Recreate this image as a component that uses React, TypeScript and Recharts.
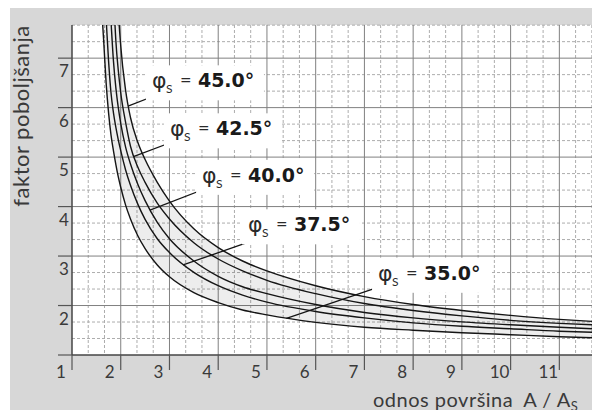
import React from 'react';
import {
  ComposedChart,
  Line,
  Area,
  XAxis,
  YAxis,
  CartesianGrid,
  ReferenceLine,
  ReferenceDot,
} from 'recharts';

// odnos površina A / As (x) and faktor poboljšanja for each friction angle
const ratio = [1.5, 1.55, 1.6, 1.65, 1.7, 1.75, 1.8, 1.85, 1.9, 1.95, 2.0, 2.1, 2.2, 2.35, 2.5, 2.75, 3.0, 3.5, 4.0, 4.5, 5.0, 6.0, 7.0, 8.0, 9.0, 10.0, 11.0, 11.67];
const phi35 = [11, 9.6, 8.2, 7.35, 6.5, 5.9, 5.45, 5.13, 4.85, 4.6, 4.39, 4.03, 3.75, 3.41, 3.15, 2.82, 2.58, 2.26, 2.06, 1.91, 1.81, 1.66, 1.56, 1.5, 1.45, 1.41, 1.37, 1.35];
const phi375 = [12, 10.8, 9.6, 8.6, 7.8, 6.95, 6.3, 5.9, 5.6, 5.35, 5.13, 4.74, 4.43, 4.05, 3.74, 3.35, 3.07, 2.67, 2.4, 2.21, 2.07, 1.88, 1.75, 1.65, 1.58, 1.53, 1.48, 1.46];
const phi40 = [14, 13, 12, 11, 9.5, 8.6, 7.75, 6.95, 6.4, 6.0, 5.68, 5.2, 4.86, 4.45, 4.12, 3.68, 3.35, 2.9, 2.59, 2.38, 2.24, 2.02, 1.86, 1.75, 1.67, 1.61, 1.56, 1.53];
const phi425 = [16, 15, 14, 13, 12, 11, 10, 8.4, 7.35, 6.75, 6.3, 5.7, 5.22, 4.8, 4.49, 4.07, 3.75, 3.27, 2.94, 2.7, 2.51, 2.24, 2.04, 1.9, 1.79, 1.7, 1.64, 1.61];
const phi45 = [18, 17, 16, 15, 14, 13, 12, 11, 9.5, 8.0, 7.25, 6.35, 5.8, 5.3, 4.95, 4.49, 4.11, 3.55, 3.17, 2.9, 2.7, 2.4, 2.18, 2.02, 1.9, 1.8, 1.72, 1.68];

const xTicks = [1, 2, 3, 4, 5, 6, 7, 8, 9, 10, 11];
const yTicks = [1, 2, 3, 4, 5, 6, 7];

// curve labels: angle text, anchor (left of φ, baseline) and leader line
const labelAngles = ['45.0°', '42.5°', '40.0°', '37.5°', '35.0°'];
const labelX = [2.64, 3.01, 3.67, 4.61, 7.28];
const labelY = [6.41, 5.44, 4.5, 3.5, 2.52];
const leaderStartX = [2.67, 3.07, 3.76, 4.65, 7.32];
const leaderStartY = [6.23, 5.31, 4.37, 3.29, 2.38];
const leaderEndX = [2.15, 2.26, 2.6, 3.28, 5.4];
const leaderEndY = [6.03, 5.01, 3.93, 2.82, 1.74];

const X_MAX = 11.67;
const Y_MAX = 7.67;

const data = ratio.map((x, i) => ({
  x,
  p35: phi35[i],
  p375: phi375[i],
  p40: phi40[i],
  p425: phi425[i],
  p45: phi45[i],
}));

// grid every third of a unit
const thirds = (from: number, to: number) => {
  const out: number[] = [];
  for (let k = 1; from + k / 3 < to + 0.01; k++) {
    if (k % 3 !== 0) out.push(from + k / 3);
  }
  return out;
};
const minorX = thirds(1, X_MAX);
const minorY = thirds(1, Y_MAX);

const textColor = '#3a3a3a';
const curveColor = '#151515';

const XTick = ({ x, y, payload }: any) => (
  <text x={x - 11} y={y + 6} textAnchor="middle" fontSize={17} fill={textColor} fontFamily="Lato">
    {payload.value}
  </text>
);

const YTick = ({ x, y, payload }: any) => {
  if (payload.value === 1) return null;
  return (
    <text x={x + 8} y={y + 19} textAnchor="middle" fontSize={17} fill={textColor} fontFamily="Lato">
      {payload.value}
    </text>
  );
};

const makeLabel = (angle: string) => (props: any) => {
  const { cx, cy } = props;
  return (
    <g>
      <rect x={cx - 6} y={cy - 22} width={118} height={35} fill="#fff" />
      <text x={cx} y={cy + 1} fontSize={22} fill="#2a2a2a" fontFamily="DejaVu Sans">
        φ
      </text>
      <text x={cx + 14} y={cy + 6} fontSize={12} fill="#2a2a2a" fontFamily="Lato">
        S
      </text>
      <text x={cx + 28} y={cy} fontSize={20} fill="#2a2a2a" fontFamily="Lato">
        =
      </text>
      <text x={cx + 46} y={cy} fontSize={19} fontWeight="bold" fill="#1a1a1a" fontFamily="DejaVu Sans">
        {angle}
      </text>
    </g>
  );
};

export default function App() {
  return (
    <div style={{ position: 'relative', width: 600, height: 418, margin: -8, background: '#fff' }}>
      <div style={{ position: 'absolute', left: 10, top: 8, right: 0, bottom: 0, background: '#d7d7d7' }} />
      <div style={{ position: 'absolute', left: 0, top: 0 }}>
        <ComposedChart
          width={600}
          height={418}
          data={data}
          margin={{ top: 25, right: 8, bottom: 33, left: 12 }}
        >
          <CartesianGrid
            fill="#fff"
            fillOpacity={1}
            stroke="#adadad"
            strokeDasharray="3 2"
            verticalValues={minorX}
            horizontalValues={minorY}
          />
          <CartesianGrid
            stroke="#808080"
            verticalValues={xTicks.slice(1)}
            horizontalValues={yTicks.slice(1)}
          />
          <XAxis
            type="number"
            dataKey="x"
            domain={[1, X_MAX]}
            ticks={xTicks}
            interval={0}
            allowDataOverflow
            height={30}
            tickSize={15}
            tick={<XTick />}
            axisLine={{ stroke: '#444', strokeWidth: 1.5 }}
            tickLine={{ stroke: '#555', strokeWidth: 1.2 }}
          />
          <YAxis
            type="number"
            domain={[1, Y_MAX]}
            ticks={yTicks}
            interval={0}
            allowDataOverflow
            width={60}
            tickSize={14}
            tick={<YTick />}
            axisLine={{ stroke: '#444', strokeWidth: 1.5 }}
            tickLine={{ stroke: '#555', strokeWidth: 1.2 }}
          />

          {/* light band between the outer curves */}
          <Area
            type="monotone"
            dataKey={(d: any) => [d.p35, d.p45]}
            stroke="none"
            fill="#000"
            fillOpacity={0.07}
            isAnimationActive={false}
          />

          {['p35', 'p375', 'p40', 'p425', 'p45'].map(k => (
            <Line
              key={k}
              type="monotone"
              dataKey={k}
              stroke={curveColor}
              strokeWidth={1.4}
              dot={false}
              activeDot={false}
              isAnimationActive={false}
            />
          ))}

          {labelAngles.map((a, i) => (
            <ReferenceLine
              key={'leader' + i}
              segment={[
                { x: leaderStartX[i], y: leaderStartY[i] },
                { x: leaderEndX[i], y: leaderEndY[i] },
              ]}
              stroke={curveColor}
              strokeWidth={1.3}
            />
          ))}
          {labelAngles.map((a, i) => (
            <ReferenceDot
              key={'label' + i}
              x={labelX[i]}
              y={labelY[i]}
              r={1}
              shape={makeLabel(a)}
            />
          ))}
        </ComposedChart>
      </div>
      <svg
        width={600}
        height={418}
        style={{ position: 'absolute', left: 0, top: 0, pointerEvents: 'none' }}
      >
        <text
          transform="translate(29,116) rotate(-90)"
          textAnchor="middle"
          fontSize={22}
          letterSpacing={0.5}
          fill={textColor}
          fontFamily="Lato"
        >
          faktor poboljšanja
        </text>
        <text x={373} y={407} fontSize={20} letterSpacing={0.5} fill={textColor} fontFamily="Lato">
          odnos površina
          <tspan dx={10}>A / A</tspan>
          <tspan dy={4} fontSize={13}>S</tspan>
        </text>
      </svg>
    </div>
  );
}
